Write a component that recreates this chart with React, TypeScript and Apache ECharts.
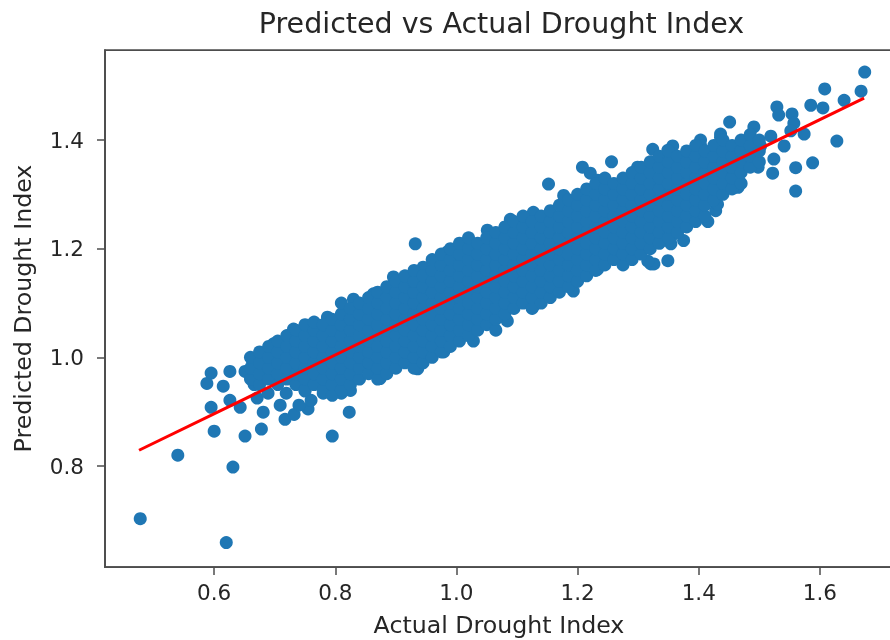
import React, { useEffect, useRef } from "react";
import * as echarts from "echarts";

const titleText = "Predicted vs Actual Drought Index";
const xLabel = "Actual Drought Index";
const yLabel = "Predicted Drought Index";
const xTicks = [0.6, 0.8, 1.0, 1.2, 1.4, 1.6];
const yTicks = [0.8, 1.0, 1.2, 1.4];
const fitLine = [[0.476, 0.829], [1.673, 1.477]];

const lowOutliers = [
  [0.478, 0.703], [0.62, 0.659], [0.54, 0.82], [0.631, 0.798], [0.6, 0.864], [0.651, 0.855],
  [0.678, 0.868], [0.795, 0.855], [0.823, 0.899], [0.717, 0.886], [0.732, 0.895], [0.755, 0.905],
  [0.76, 0.921], [0.74, 0.912], [0.681, 0.899], [0.643, 0.908], [0.595, 0.908], [0.626, 0.921],
  [0.709, 0.912], [0.719, 0.934], [0.588, 0.952], [0.595, 0.971], [0.615, 0.947], [0.626, 0.974],
  [0.651, 0.974], [0.666, 0.95], [0.671, 0.925], [0.689, 0.934], [0.663, 0.994], [0.674, 1.0],
];
const highOutliers = [
  [1.674, 1.525], [1.608, 1.494], [1.668, 1.49], [1.64, 1.473], [1.605, 1.459], [1.585, 1.464],
  [1.529, 1.461], [1.532, 1.446], [1.554, 1.448], [1.557, 1.431], [1.451, 1.433], [1.491, 1.424],
  [1.574, 1.411], [1.628, 1.398], [1.588, 1.358], [1.56, 1.349], [1.56, 1.306], [1.522, 1.339],
  [1.428, 1.27], [1.349, 1.178], [1.321, 1.172], [1.324, 1.383], [1.357, 1.389], [1.403, 1.4],
  [1.436, 1.411], [1.152, 1.319], [1.208, 1.35], [1.221, 1.339], [1.256, 1.36], [0.932, 1.209],
  [1.326, 1.172], [1.354, 1.209], [1.375, 1.215], [1.524, 1.365], [1.541, 1.389], [1.519, 1.407],
  [1.552, 1.417], [1.502, 1.389],
];
const upperEdge = [
  [0.698, 1.025], [0.731, 1.052], [0.787, 1.074], [0.83, 1.107], [0.863, 1.117], [0.896, 1.148],
  [0.945, 1.166], [0.985, 1.194], [1.051, 1.234], [1.089, 1.254], [1.127, 1.267], [1.177, 1.298],
  [1.233, 1.326], [1.299, 1.35], [1.349, 1.381], [1.403, 1.39], [1.436, 1.405],
];
const lowerEdge = [
  [0.825, 0.939], [0.874, 0.961], [0.936, 0.979], [0.979, 1.01], [1.028, 1.03], [1.084, 1.067],
  [1.127, 1.094], [1.193, 1.122], [1.233, 1.162], [1.316, 1.177], [1.354, 1.221], [1.415, 1.25],
  [1.431, 1.282], [1.465, 1.313], [1.498, 1.35], [0.78, 0.934], [0.81, 0.934], [0.75, 0.938],
];
// Dense cloud, column by column: the first number is x, the rest are y values.
const cloudColumns = [
  [0.66, 0.96, 0.98, 1.0],
  [0.675, 0.95, 0.97, 0.99, 1.01],
  [0.69, 0.96, 0.98, 1.0, 1.02],
  [0.705, 0.95, 0.97, 0.99, 1.01, 1.03],
  [0.72, 0.96, 0.98, 1.0, 1.02, 1.04],
  [0.735, 0.95, 0.97, 0.99, 1.01, 1.03, 1.05],
  [0.75, 0.94, 0.96, 0.98, 1.0, 1.02, 1.04, 1.06],
  [0.765, 0.95, 0.97, 0.99, 1.01, 1.03, 1.05, 1.065],
  [0.78, 0.94, 0.96, 0.98, 1.0, 1.02, 1.04, 1.06],
  [0.795, 0.93, 0.95, 0.97, 0.99, 1.01, 1.03, 1.05, 1.07],
  [0.81, 0.94, 0.96, 0.98, 1.0, 1.02, 1.04, 1.06, 1.08, 1.1],
  [0.825, 0.95, 0.97, 0.99, 1.01, 1.03, 1.05, 1.07, 1.09],
  [0.84, 0.96, 0.98, 1.0, 1.02, 1.04, 1.06, 1.08, 1.1],
  [0.855, 0.97, 0.99, 1.01, 1.03, 1.05, 1.07, 1.09, 1.11],
  [0.87, 0.96, 0.98, 1.0, 1.02, 1.04, 1.06, 1.08, 1.1, 1.12],
  [0.885, 0.97, 0.99, 1.01, 1.03, 1.05, 1.07, 1.09, 1.11, 1.13],
  [0.9, 0.98, 1.0, 1.02, 1.04, 1.06, 1.08, 1.1, 1.12, 1.14],
  [0.915, 0.99, 1.01, 1.03, 1.05, 1.07, 1.09, 1.11, 1.13, 1.15],
  [0.93, 0.98, 1.0, 1.02, 1.04, 1.06, 1.08, 1.1, 1.12, 1.14, 1.16],
  [0.945, 0.99, 1.01, 1.03, 1.05, 1.07, 1.09, 1.11, 1.13, 1.15],
  [0.96, 1.0, 1.02, 1.04, 1.06, 1.08, 1.1, 1.12, 1.14, 1.16, 1.18],
  [0.975, 1.01, 1.03, 1.05, 1.07, 1.09, 1.11, 1.13, 1.15, 1.17, 1.19],
  [0.99, 1.02, 1.04, 1.06, 1.08, 1.1, 1.12, 1.14, 1.16, 1.18, 1.2],
  [1.005, 1.03, 1.05, 1.07, 1.09, 1.11, 1.13, 1.15, 1.17, 1.19, 1.21],
  [1.02, 1.04, 1.06, 1.08, 1.1, 1.12, 1.14, 1.16, 1.18, 1.2, 1.22],
  [1.035, 1.05, 1.07, 1.09, 1.11, 1.13, 1.15, 1.17, 1.19, 1.21],
  [1.05, 1.06, 1.08, 1.1, 1.12, 1.14, 1.16, 1.18, 1.2, 1.22],
  [1.065, 1.05, 1.07, 1.09, 1.11, 1.13, 1.15, 1.17, 1.19, 1.21, 1.23],
  [1.08, 1.08, 1.1, 1.12, 1.14, 1.16, 1.18, 1.2, 1.22, 1.24],
  [1.095, 1.09, 1.11, 1.13, 1.15, 1.17, 1.19, 1.21, 1.23, 1.25],
  [1.11, 1.1, 1.12, 1.14, 1.16, 1.18, 1.2, 1.22, 1.24, 1.26],
  [1.125, 1.09, 1.11, 1.13, 1.15, 1.17, 1.19, 1.21, 1.23, 1.25],
  [1.14, 1.1, 1.12, 1.14, 1.16, 1.18, 1.2, 1.22, 1.24, 1.26],
  [1.155, 1.11, 1.13, 1.15, 1.17, 1.19, 1.21, 1.23, 1.25, 1.27],
  [1.17, 1.12, 1.14, 1.16, 1.18, 1.2, 1.22, 1.24, 1.26, 1.28],
  [1.185, 1.13, 1.15, 1.17, 1.19, 1.21, 1.23, 1.25, 1.27, 1.29],
  [1.2, 1.14, 1.16, 1.18, 1.2, 1.22, 1.24, 1.26, 1.28, 1.3],
  [1.215, 1.15, 1.17, 1.19, 1.21, 1.23, 1.25, 1.27, 1.29, 1.31],
  [1.23, 1.16, 1.18, 1.2, 1.22, 1.24, 1.26, 1.28, 1.3, 1.32],
  [1.245, 1.17, 1.19, 1.21, 1.23, 1.25, 1.27, 1.29, 1.31, 1.33],
  [1.26, 1.18, 1.2, 1.22, 1.24, 1.26, 1.28, 1.3, 1.32],
  [1.275, 1.17, 1.19, 1.21, 1.23, 1.25, 1.27, 1.29, 1.31, 1.33],
  [1.29, 1.18, 1.2, 1.22, 1.24, 1.26, 1.28, 1.3, 1.32, 1.34],
  [1.305, 1.19, 1.21, 1.23, 1.25, 1.27, 1.29, 1.31, 1.33, 1.35],
  [1.32, 1.2, 1.22, 1.24, 1.26, 1.28, 1.3, 1.32, 1.34, 1.36],
  [1.335, 1.21, 1.23, 1.25, 1.27, 1.29, 1.31, 1.33, 1.35, 1.37],
  [1.35, 1.22, 1.24, 1.26, 1.28, 1.3, 1.32, 1.34, 1.36, 1.38],
  [1.365, 1.23, 1.25, 1.27, 1.29, 1.31, 1.33, 1.35, 1.37],
  [1.38, 1.24, 1.26, 1.28, 1.3, 1.32, 1.34, 1.36, 1.38],
  [1.395, 1.25, 1.27, 1.29, 1.31, 1.33, 1.35, 1.37, 1.39],
  [1.41, 1.26, 1.28, 1.3, 1.32, 1.34, 1.36, 1.38],
  [1.425, 1.29, 1.31, 1.33, 1.35, 1.37, 1.39],
  [1.44, 1.3, 1.32, 1.34, 1.36, 1.38, 1.4],
  [1.455, 1.31, 1.33, 1.35, 1.37, 1.39],
  [1.47, 1.32, 1.34, 1.36, 1.38, 1.4],
  [1.485, 1.35, 1.37, 1.39, 1.41],
  [1.5, 1.36, 1.38, 1.4],
];

const textColor = "#262626";
const spineColor = "#4d4d4d";
const fontFamily = "'DejaVu Sans', sans-serif";

export default function App() {
  const ref = useRef<HTMLDivElement>(null);
  useEffect(() => {
    document.body.style.margin = "0";
    const chart = echarts.init(ref.current!, undefined, { renderer: "svg" });
    const cloud: number[][] = [];
    cloudColumns.forEach((col) => col.slice(1).forEach((y) => cloud.push([col[0], y])));
    const axisCommon = {
      axisLine: { show: true, lineStyle: { color: spineColor, width: 1.75 } },
      axisTick: { show: true, length: 8, lineStyle: { color: spineColor, width: 1.5 } },
      splitLine: { show: false },
      nameLocation: "middle" as const,
      nameTextStyle: { color: textColor, fontSize: 23.7, fontFamily },
    };
    const tickLabel = {
      color: textColor,
      fontSize: 21.5,
      fontFamily,
      formatter: (v: number) => v.toFixed(1),
    };
    chart.setOption({
      animation: false,
      backgroundColor: "#ffffff",
      title: {
        text: titleText,
        left: 496.5,
        top: 4,
        textAlign: "center",
        textStyle: { color: textColor, fontSize: 28.5, fontWeight: "normal", fontFamily },
      },
      grid: {
        left: 105,
        top: 50,
        right: -3,
        bottom: 73,
        show: true,
        borderColor: spineColor,
        borderWidth: 1.75,
        outerBoundsMode: "none",
      },
      xAxis: {
        ...axisCommon,
        type: "value",
        min: 0.4198,
        max: 1.7207,
        name: xLabel,
        nameGap: 46,
        axisTick: { ...axisCommon.axisTick, customValues: xTicks },
        axisLabel: { ...tickLabel, customValues: xTicks, margin: 14 },
      },
      yAxis: {
        ...axisCommon,
        type: "value",
        min: 0.6141,
        max: 1.5657,
        name: yLabel,
        nameGap: 70,
        axisTick: { ...axisCommon.axisTick, customValues: yTicks },
        axisLabel: { ...tickLabel, customValues: yTicks, margin: 21 },
      },
      series: [
        {
          type: "scatter",
          data: [...lowOutliers, ...highOutliers, ...upperEdge, ...lowerEdge, ...cloud],
          symbolSize: 13,
          itemStyle: { color: "#1f77b4", opacity: 1 },
          silent: true,
          large: false,
        },
        {
          type: "line",
          data: fitLine,
          showSymbol: false,
          lineStyle: { color: "#ff0000", width: 3 },
          silent: true,
          z: 5,
        },
      ],
    });
    return () => chart.dispose();
  }, []);
  return <div ref={ref} style={{ width: 890, height: 640, filter: "blur(0.5px)" }} />;
}
